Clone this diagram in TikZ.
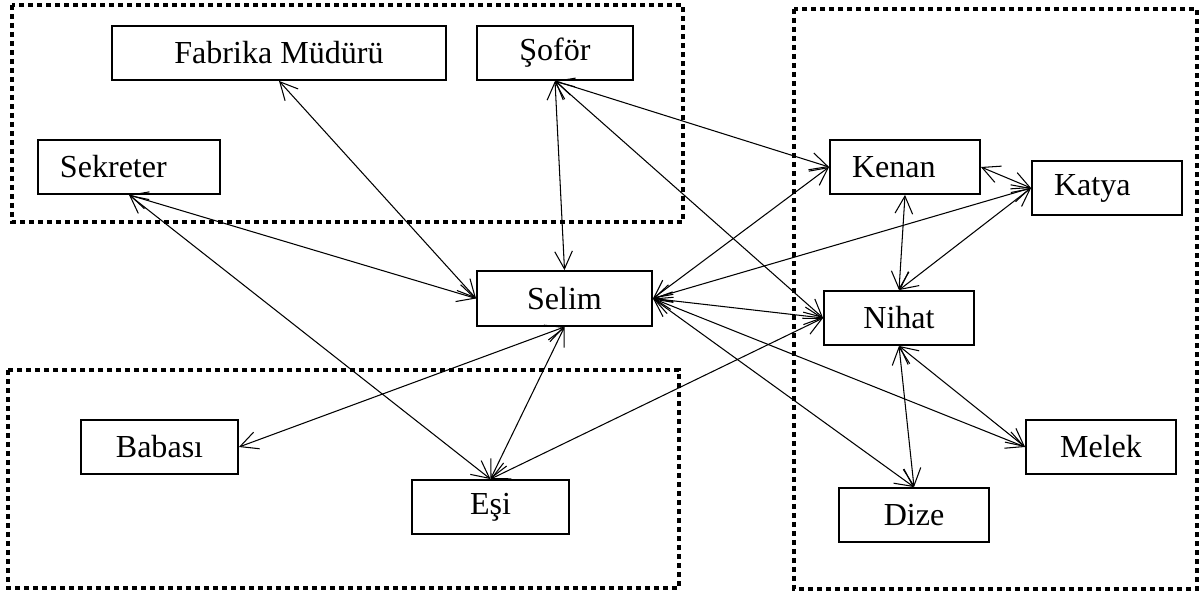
\documentclass[tikz,border=0pt]{standalone}
\usepackage{fontspec}
\setmainfont{Liberation Serif}
\usetikzlibrary{arrows.meta,positioning}
\tikzstyle{box}=[draw,line width=1.3pt,minimum height=1.35cm,inner sep=0pt,font=\fontsize{22.8}{27}\selectfont]
\tikzstyle{lbox}=[box,align=left,inner xsep=0.55cm]
\tikzstyle{group}=[line width=3.2pt,dash pattern=on 3.3pt off 3.1pt]
\tikzstyle{link}=[<->,>={Straight Barb[length=0.44cm,width=0.44cm]},line width=0.75pt]

\begin{document}
\begin{tikzpicture}[x=0.025cm,y=-0.025cm]
            \useasboundingbox (0,0) rectangle (1201,596);
            \draw[group] (12,5) rectangle (683,222);
            \draw[group] (8,370) rectangle (679,588);
            \draw[group] (794,9) rectangle (1197,589);

            \node (fab) [box,minimum width=8.35cm] at (279,53) {Fabrika Müdürü};
            \node (sof) [box,minimum width=3.9cm] at (555,53) {Şoför};
            \node (sek) [lbox,text width=3.45cm] at (129,167) {Sekreter};
            \node (sel) [box,minimum width=4.375cm,minimum height=1.375cm] at (564.5,298.5) {Selim};
            \node (ken) [lbox,text width=2.65cm] at (905,167) {Kenan};
            \node (kat) [lbox,text width=2.65cm] at (1107,188) {Katya};
            \node (nih) [box,minimum width=3.75cm] at (899,318) {Nihat};
            \node (mel) [box,minimum width=3.75cm] at (1101,447) {Melek};
            \node (diz) [box,minimum width=3.75cm] at (914,515) {Dize};
            \node (bab) [box,minimum width=3.925cm] at (159.5,447) {Babası};
            \node (esi) [box,minimum width=3.925cm] at (490.5,507) {Eşi};

            \path[link] (fab.south) edge (sel.west);
            \path[link] (sek.south) edge (sel.west);
            \path[link] (sek.south) edge (esi.north);
            \path[link] (sof.south) edge (sel.north);
            \path[link] (sof.south) edge (ken.west);
            \path[link] (sof.south) edge (nih.west);

            \path[link] (sel.east) edge (ken.west);
            \path[link] (sel.east) edge (kat.west);
            \path[link] (sel.east) edge (nih.west);
            \path[link] (sel.east) edge (mel.west);
            \path[link] (sel.east) edge (diz.north);
            \path[link] (sel.south) edge (bab.east);
            \path[link] (sel.south) edge (esi.north);

            \path[link] (nih.west) edge (esi.north);
            \path[link] (ken.east) edge (kat.west);
            \path[link] (ken.south) edge (nih.north);
            \path[link] (kat.west) edge (nih.north);
            \path[link] (nih.south) edge (mel.west);
            \path[link] (nih.south) edge (diz.north);
\end{tikzpicture}
\end{document}
